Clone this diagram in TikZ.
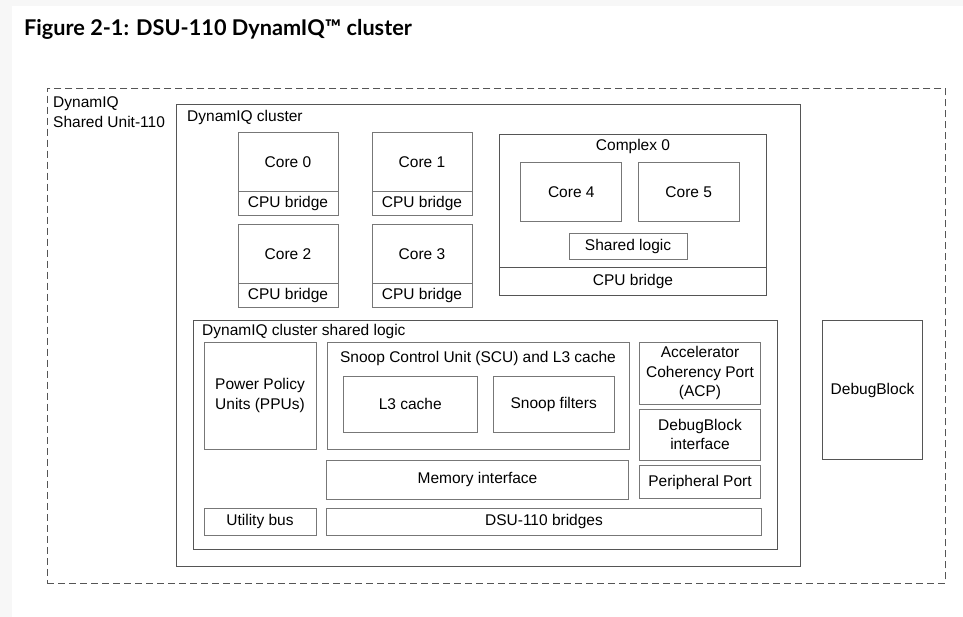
\documentclass[tikz,border=0pt]{standalone}
\usepackage{fontspec}
\setmainfont{Liberation Sans}
\newfontfamily\titlefont{Lato}
\usetikzlibrary{positioning}
\definecolor{linegray}{HTML}{555555}
\definecolor{boxgray}{HTML}{777777}
\definecolor{pagegray}{HTML}{F7F7F7}
\tikzstyle{blk} = [rectangle, draw=boxgray, line width=1pt, inner sep=0pt, outer sep=0pt, align=center, font=\fontsize{15.5}{19.5}\selectfont]
\tikzstyle{frame} = [blk, draw=linegray]
\tikzstyle{lbl} = [inner sep=0pt, align=left, font=\fontsize{15.5}{19.5}\selectfont]

\begin{document}
\begin{tikzpicture}[x=1pt, y=-1pt]
	\useasboundingbox (0,0) rectangle (963,617);
	\fill[pagegray] (0,0) rectangle (963,617);
	\fill[white] (12,6) rectangle (963,617);

	\node (title) [anchor=base west, inner sep=0pt, font=\titlefont\bfseries\fontsize{21.7}{24}\selectfont] at (24,36) {Figure 2-1: DSU-110 DynamIQ™ cluster};

	% outer shared unit and cluster
	\node (dsu) [frame, dashed, dash pattern=on 7pt off 4pt, minimum width=898pt, minimum height=495.3pt] at (496,335.7) {};
	\node (dsulbl) [lbl, anchor=north west] at (53,96.5) {DynamIQ\\Shared Unit-110};
	\node (cluster) [frame, minimum width=623.5pt, minimum height=461.7pt] at (488.3,335.2) {};
	\node (clusterlbl) [lbl, anchor=base west] at (187,122) {DynamIQ cluster};

	% cores with their bridges
	\node (core0) [blk, minimum width=100pt, minimum height=58.7pt] at (288,161.8) {Core 0};
	\node (br0) [blk, minimum width=100pt, minimum height=24.6pt, below=0pt of core0] {CPU bridge};
	\node (core1) [blk, minimum width=100pt, minimum height=58.7pt] at (422,161.8) {Core 1};
	\node (br1) [blk, minimum width=100pt, minimum height=24.6pt, below=0pt of core1] {CPU bridge};
	\node (core2) [blk, minimum width=100pt, minimum height=58.7pt] at (288,253.8) {Core 2};
	\node (br2) [blk, minimum width=100pt, minimum height=24.6pt, below=0pt of core2] {CPU bridge};
	\node (core3) [blk, minimum width=100pt, minimum height=58.7pt] at (422,253.8) {Core 3};
	\node (br3) [blk, minimum width=100pt, minimum height=24.6pt, below=0pt of core3] {CPU bridge};

	% complex
	\node (cplx) [frame, minimum width=267.4pt, minimum height=132.7pt] at (633,201.3) {};
	\node (cplxlbl) [lbl] at (633,146.5) {Complex 0};
	\node (core4) [blk, minimum width=100.7pt, minimum height=58.7pt] at (571.3,191.7) {Core 4};
	\node (core5) [blk, minimum width=100.7pt, minimum height=58.7pt] at (688.7,191.7) {Core 5};
	\node (shl) [blk, minimum width=118pt, minimum height=26pt] at (628,246.3) {Shared logic};
	\node (brc) [frame, minimum width=267.4pt, minimum height=28.3pt, below=0pt of cplx] {CPU bridge};

	% cluster shared logic
	\node (dcsl) [frame, minimum width=583.5pt, minimum height=228.6pt] at (485.3,435) {};
	\node (dcsllbl) [lbl, anchor=base west] at (202,335.7) {DynamIQ cluster shared logic};
	\node (ppu) [blk, minimum width=112pt, minimum height=106.7pt] at (260,395.7) {Power Policy\\Units (PPUs)};
	\node (scu) [blk, minimum width=302pt, minimum height=106.7pt] at (478,395.7) {};
	\node (scului) [lbl] at (478,358) {Snoop Control Unit (SCU) and L3 cache};
	\node (l3) [blk, minimum width=134pt, minimum height=56pt] at (410.3,404.3) {L3 cache};
	\node (snf) [blk, minimum width=120.7pt, minimum height=56pt] at (553.7,404.3) {Snoop filters};
	\node (acp) [blk, minimum width=121pt, minimum height=62pt] at (700,373.3) {Accelerator\\Coherency Port\\(ACP)};
	\node (dbi) [blk, minimum width=121pt, minimum height=50.7pt] at (700,434.7) {DebugBlock\\interface};
	\node (pp) [blk, minimum width=121pt, minimum height=33.3pt] at (700,482.3) {Peripheral Port};
	\node (mem) [blk, minimum width=302pt, minimum height=39pt] at (477.5,479.5) {Memory interface};
	\node (ub) [blk, minimum width=112pt, minimum height=27.3pt] at (260,521.7) {Utility bus};
	\node (dsub) [blk, minimum width=435pt, minimum height=27.3pt] at (544,521.7) {DSU-110 bridges};

	% debug block
	\node (dbg) [frame, minimum width=100.4pt, minimum height=139.3pt] at (872.5,390.3) {DebugBlock};
\end{tikzpicture}
\end{document}
